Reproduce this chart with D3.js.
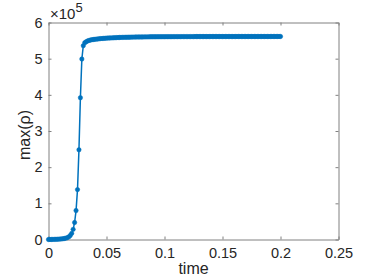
<!DOCTYPE html>
<html><head><meta charset="utf-8">
<script src="https://cdn.jsdelivr.net/npm/d3@7"></script>
<style>body{margin:0;background:#fff}svg{display:block}text{font-family:"Liberation Sans",Arial,sans-serif;fill:#262626}</style>
</head><body><svg id="c" width="374" height="280"></svg>
<script>
const xTicks = [0, 0.05, 0.1, 0.15, 0.2, 0.25];
const xTickLabels = ["0", "0.05", "0.1", "0.15", "0.2", "0.25"];
const yTicks = [0, 1, 2, 3, 4, 5, 6];
const yTickLabels = ["0", "1", "2", "3", "4", "5", "6"];
const xLabel = "time";
const yLabel = "max(ρ)";
const yExponent = "5";
const time = [
0,0.00125,0.0025,0.00375,0.005,0.00625,0.0075,0.00875,
0.01,0.01125,0.0125,0.01375,0.015,0.01625,0.0175,0.01875,
0.02,0.02125,0.0225,0.02375,0.025,0.02625,0.0275,0.02875,
0.03,0.03125,0.0325,0.03375,0.035,0.03625,0.0375,0.03875,
0.04,0.04125,0.0425,0.04375,0.045,0.04625,0.0475,0.04875,
0.05,0.05125,0.0525,0.05375,0.055,0.05625,0.0575,0.05875,
0.06,0.06125,0.0625,0.06375,0.065,0.06625,0.0675,0.06875,
0.07,0.07125,0.0725,0.07375,0.075,0.07625,0.0775,0.07875,
0.08,0.08125,0.0825,0.08375,0.085,0.08625,0.0875,0.08875,
0.09,0.09125,0.0925,0.09375,0.095,0.09625,0.0975,0.09875,
0.1,0.10125,0.1025,0.10375,0.105,0.10625,0.1075,0.10875,
0.11,0.11125,0.1125,0.11375,0.115,0.11625,0.1175,0.11875,
0.12,0.12125,0.1225,0.12375,0.125,0.12625,0.1275,0.12875,
0.13,0.13125,0.1325,0.13375,0.135,0.13625,0.1375,0.13875,
0.14,0.14125,0.1425,0.14375,0.145,0.14625,0.1475,0.14875,
0.15,0.15125,0.1525,0.15375,0.155,0.15625,0.1575,0.15875,
0.16,0.16125,0.1625,0.16375,0.165,0.16625,0.1675,0.16875,
0.17,0.17125,0.1725,0.17375,0.175,0.17625,0.1775,0.17875,
0.18,0.18125,0.1825,0.18375,0.185,0.18625,0.1875,0.18875,
0.19,0.19125,0.1925,0.19375,0.195,0.19625,0.1975,0.19875,
0.2];
const maxRho = [
0,0.001,0.002,0.003,0.004,0.005,0.007,0.009,
0.012,0.016,0.021,0.028,0.038,0.052,0.073,0.11,
0.17,0.28,0.47,0.80,1.38,2.48,3.92,4.99,
5.36,5.44,5.47,5.49,5.505,5.515,5.525,5.53,
5.535,5.54,5.545,5.55,5.555,5.558,5.561,5.564,
5.567,5.57,5.572,5.574,5.576,5.578,5.58,5.582,
5.584,5.586,5.588,5.589,5.59,5.591,5.592,5.593,
5.594,5.595,5.596,5.597,5.598,5.599,5.6,5.6,
5.601,5.601,5.602,5.602,5.603,5.603,5.604,5.604,
5.605,5.605,5.605,5.606,5.606,5.606,5.607,5.607,
5.607,5.608,5.608,5.608,5.608,5.608,5.609,5.609,
5.609,5.609,5.609,5.609,5.61,5.61,5.61,5.61,
5.61,5.61,5.61,5.61,5.61,5.611,5.611,5.611,
5.611,5.611,5.611,5.611,5.611,5.611,5.611,5.611,
5.612,5.612,5.612,5.612,5.612,5.612,5.612,5.612,
5.612,5.612,5.612,5.612,5.612,5.612,5.612,5.612,
5.612,5.612,5.613,5.613,5.613,5.613,5.613,5.613,
5.613,5.613,5.613,5.613,5.613,5.613,5.613,5.613,
5.613,5.613,5.613,5.613,5.613,5.613,5.613,5.613,
5.613,5.613,5.614,5.614,5.614,5.614,5.614,5.614,
5.614];

const color = "#0072BD";
const axisColor = "#808080";
const L = 48.5, R = 338.5, T = 22.5, B = 239.5;
const svg = d3.select("#c");
const x = d3.scaleLinear().domain([0, 0.25]).range([L, R]);
const y = d3.scaleLinear().domain([0, 6]).range([B, T]);
const tl = 3;

const gBottom = svg.append("g").attr("transform", `translate(0,${B})`)
  .call(d3.axisBottom(x).tickValues(xTicks).tickFormat((d,i)=>xTickLabels[i]).tickSizeInner(-tl).tickSizeOuter(0).tickPadding(8));
const gTop = svg.append("g").attr("transform", `translate(0,${T})`)
  .call(d3.axisTop(x).tickValues(xTicks).tickFormat("").tickSizeInner(-tl).tickSizeOuter(0));
const gLeft = svg.append("g").attr("transform", `translate(${L},0)`)
  .call(d3.axisLeft(y).tickValues(yTicks).tickFormat((d,i)=>yTickLabels[i]).tickSizeInner(-tl).tickSizeOuter(0).tickPadding(6));
const gRight = svg.append("g").attr("transform", `translate(${R},0)`)
  .call(d3.axisRight(y).tickValues(yTicks).tickFormat("").tickSizeInner(-tl).tickSizeOuter(0));
[gBottom, gTop, gLeft, gRight].forEach(g => {
  g.select(".domain").attr("stroke", axisColor);
  g.selectAll(".tick line").attr("stroke", axisColor);
  g.selectAll(".tick text").attr("font-size", 14.5).attr("fill", "#262626").attr("font-family", "Liberation Sans, Arial, sans-serif");
});

const n = Math.min(time.length, maxRho.length);
const pts = time.slice(0, n).map((t, i) => [t, maxRho[i]]);
svg.append("path").datum(pts)
  .attr("fill", "none").attr("stroke", color).attr("stroke-width", 1.5)
  .attr("d", d3.line().x(d => x(d[0])).y(d => y(d[1])));
svg.append("g").selectAll("circle").data(pts).join("circle")
  .attr("cx", d => x(d[0])).attr("cy", d => y(d[1])).attr("r", 2.2)
  .attr("fill", color).attr("stroke", color).attr("stroke-width", 0.5);

svg.append("text").attr("x", (L + R) / 2).attr("y", 274).attr("text-anchor", "middle").attr("font-size", 16).text(xLabel);
svg.append("text").attr("transform", `translate(30,${(T + B) / 2 + 4}) rotate(-90)`).attr("text-anchor", "middle").attr("font-size", 16).text(yLabel);
const ex = svg.append("text").attr("x", 50).attr("y", 18.5).attr("font-size", 15);
ex.append("tspan").text("×10");
ex.append("tspan").attr("dy", -7).attr("font-size", 13).text(yExponent);
</script></body></html>
